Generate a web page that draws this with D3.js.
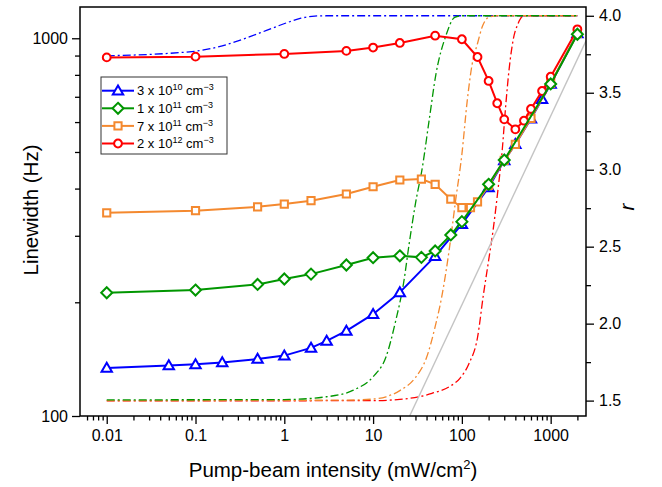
<!DOCTYPE html>
<html>
<head>
<meta charset="utf-8">
<script src="https://cdn.jsdelivr.net/npm/d3@7"></script>
<style>
body { margin: 0; background: #fff; }
text { font-family: "Liberation Sans", Arial, sans-serif; fill: #000; }
</style>
</head>
<body>
<svg width="662" height="487"></svg>
<script>
// measured linewidth (Hz) vs pump intensity (mW/cm2), one array per density
var blueX = [0.01, 0.05, 0.1, 0.2, 0.5, 1, 2, 3, 5, 10, 20, 50, 100, 200, 300, 400, 600, 800, 1000, 2000];
var blueY = [134, 136, 137, 138.5, 141.5, 144.5, 151.5, 158, 168, 186, 212.5, 265, 322, 403, 475, 524, 612, 690, 757, 1030];

var greenX = [0.01, 0.1, 0.5, 1, 2, 5, 10, 20, 35, 50, 75, 100, 200, 300, 1000, 2000];
var greenY = [212, 215.5, 223, 230.5, 237.5, 251, 262.5, 265.5, 263, 273.5, 301.5, 327, 410.6, 476, 757, 1025];

var orangeX = [0.01, 0.1, 0.5, 1, 2, 5, 10, 20, 35, 50, 75, 100, 125, 150, 200, 300, 400, 600, 1000, 2000];
var orangeY = [345, 349.5, 358, 364, 371.5, 387, 404.5, 421.5, 424, 410.5, 375, 356, 356, 369, 408, 475, 524, 614, 760, 1030];

var redX = [0.01, 0.1, 1, 5, 10, 20, 50, 100, 150, 200, 250, 300, 400, 500, 600, 800, 1000, 2000];
var redY = [890, 894, 909, 926, 945, 972, 1016, 994, 892, 771, 673, 610, 574, 605, 650, 725, 791, 1056];

// r curves (right axis)
var rBlueX = [0.01, 0.1, 0.2, 0.35, 0.63, 1.07, 1.54, 2.2, 3, 2000];
var rBlueY = [3.74, 3.77, 3.805, 3.85, 3.905, 3.955, 3.984, 3.998, 4.0, 4.0];

var rGreenX = [0.01, 1, 3, 6, 10, 14, 18, 22, 25.5, 30, 36, 43, 51, 66, 83, 100, 2000];
var rGreenY = [1.505, 1.507, 1.525, 1.568, 1.655, 1.785, 2.02, 2.26, 2.52, 2.78, 3.02, 3.33, 3.62, 3.87, 3.99, 4.0, 4.0];

var rOrangeX = [0.01, 5, 10, 14, 20, 30, 40, 50, 60, 72, 85, 100, 115, 130, 150, 170, 200, 250, 2000];
var rOrangeY = [1.5, 1.503, 1.51, 1.525, 1.565, 1.65, 1.78, 1.98, 2.19, 2.48, 2.8, 3.1, 3.45, 3.68, 3.82, 3.93, 3.99, 4.0, 4.0];

var rRedX = [0.01, 10, 20, 33, 46, 72, 95, 120, 150, 175, 200, 225, 255, 285, 310, 340, 380, 430, 500, 2000];
var rRedY = [1.498, 1.5, 1.508, 1.525, 1.547, 1.59, 1.645, 1.74, 1.91, 2.19, 2.41, 2.61, 2.87, 3.13, 3.40, 3.65, 3.85, 3.95, 4.0, 4.0];

// grey reference line
var greyX = [25.8, 2500];
var greyY = [100, 984];

var xTicks = [0.01, 0.1, 1, 10, 100, 1000];
var xTickLabels = ["0.01", "0.1", "1", "10", "100", "1000"];
var yTicks = [100, 1000];
var rTicks = [1.5, 2.0, 2.5, 3.0, 3.5, 4.0];

var legendLabels = [["3 x 10", "10"], ["1 x 10", "11"], ["7 x 10", "11"], ["2 x 10", "12"]];

var cBlue = "#0000ff", cGreen = "#009600", cOrange = "#f4892f", cRed = "#ff0000";

var L = 80, R = 586, T = 7, B = 416;

var x = d3.scaleLog().domain([0.005, 2500]).range([L, R]);
var y = d3.scaleLog().domain([100, 1210]).range([B, T]);
var yr = d3.scaleLinear().domain([1.4, 4.057]).range([B, T]);

var svg = d3.select("svg");

svg.append("defs").append("clipPath").attr("id", "clip")
    .append("rect").attr("x", L).attr("y", T).attr("width", R - L).attr("height", B - T);

var g = svg.append("g").attr("clip-path", "url(#clip)");

function zip(a, b) { return a.map(function(d, i) { return [d, b[i]]; }); }

// dash-dot r curves
var rLine = d3.line().x(function(d) { return x(d[0]); }).y(function(d) { return yr(d[1]); })
    .curve(d3.curveMonotoneX);
[[rBlueX, rBlueY, cBlue], [rRedX, rRedY, cRed], [rOrangeX, rOrangeY, cOrange], [rGreenX, rGreenY, cGreen]]
.forEach(function(s) {
    g.append("path").attr("d", rLine(zip(s[0], s[1])))
        .attr("fill", "none").attr("stroke", s[2]).attr("stroke-width", 1.3)
        .attr("stroke-dasharray", "8,3,2,3");
});

var lin = d3.line().x(function(d) { return x(d[0]); }).y(function(d) { return y(d[1]); });

g.append("path").attr("d", lin(zip(greyX, greyY)))
    .attr("fill", "none").attr("stroke", "#c4c4c4").attr("stroke-width", 1.4);

// marker shapes
var shapes = {
    tri: "M0,-5.2L5.2,3.8L-5.2,3.8Z",
    dia: "M0,-5.5L5.5,0L0,5.5L-5.5,0Z",
    sq: "M-3.6,-3.6H3.6V3.6H-3.6Z",
    circ: "M3.9,0A3.9,3.9 0 1,1 -3.9,0A3.9,3.9 0 1,1 3.9,0Z"
};

var series = [
    {xs: blueX, ys: blueY, c: cBlue, m: "tri"},
    {xs: orangeX, ys: orangeY, c: cOrange, m: "sq"},
    {xs: redX, ys: redY, c: cRed, m: "circ"},
    {xs: greenX, ys: greenY, c: cGreen, m: "dia"}
];

series.forEach(function(s) {
    var pts = zip(s.xs, s.ys);
    g.append("path").attr("d", lin(pts))
        .attr("fill", "none").attr("stroke", s.c).attr("stroke-width", 2);
    g.selectAll(null).data(pts).enter().append("path")
        .attr("d", shapes[s.m])
        .attr("transform", function(d) { return "translate(" + x(d[0]) + "," + y(d[1]) + ")"; })
        .attr("fill", "#fff").attr("stroke", s.c).attr("stroke-width", 2);
});

// axes
function minorLog(lo, hi) {
    var out = [];
    for (var e = -3; e <= 3; e++) {
        for (var k = 2; k <= 9; k++) {
            var v = k * Math.pow(10, e);
            if (v > lo && v < hi) out.push(v);
        }
    }
    return out;
}

svg.append("g").attr("transform", "translate(0," + B + ")")
    .call(d3.axisBottom(x).tickValues(xTicks)
        .tickFormat(function(d, i) { return xTickLabels[i]; })
        .tickSize(8).tickSizeOuter(0).tickPadding(6));
svg.append("g").attr("transform", "translate(0," + B + ")")
    .call(d3.axisBottom(x).tickValues(minorLog(0.0055, 2500)).tickFormat("").tickSize(4.5));

svg.append("g").attr("transform", "translate(" + L + ",0)")
    .call(d3.axisLeft(y).tickValues(yTicks).tickFormat(d3.format("d"))
        .tickSize(8).tickSizeOuter(0).tickPadding(4));
svg.append("g").attr("transform", "translate(" + L + ",0)")
    .call(d3.axisLeft(y).tickValues(minorLog(100, 1000)).tickFormat("").tickSize(5));

svg.append("g").attr("transform", "translate(" + R + ",0)")
    .call(d3.axisRight(yr).tickValues(rTicks).tickFormat(d3.format(".1f"))
        .tickSize(8).tickSizeOuter(0).tickPadding(5));
svg.append("g").attr("transform", "translate(" + R + ",0)")
    .call(d3.axisRight(yr).tickValues([1.75, 2.25, 2.75, 3.25, 3.75]).tickFormat("").tickSize(5));

svg.selectAll(".tick line").attr("stroke", "#000").attr("stroke-width", 1.3);
svg.selectAll(".domain").remove();
svg.selectAll(".tick text").style("font-size", "16px").attr("fill", "#000");

// frame
svg.append("rect").attr("x", L).attr("y", T).attr("width", R - L).attr("height", B - T)
    .attr("fill", "none").attr("stroke", "#000").attr("stroke-width", 1.5);

// titles
svg.append("text").attr("transform", "translate(38,210) rotate(-90)")
    .attr("text-anchor", "middle").style("font-size", "20.5px").text("Linewidth (Hz)");

var xt = svg.append("text").attr("x", 333).attr("y", 477)
    .attr("text-anchor", "middle").style("font-size", "20.5px");
xt.append("tspan").text("Pump-beam intensity (mW/cm");
xt.append("tspan").attr("dy", -8).style("font-size", "13px").text("2");
xt.append("tspan").attr("dy", 8).text(")");

svg.append("text").attr("transform", "translate(634,207) rotate(-90)")
    .attr("text-anchor", "middle").style("font-size", "20.5px").style("font-style", "italic").text("r");

// legend
var lg = svg.append("g");
lg.append("rect").attr("x", 101).attr("y", 77).attr("width", 126).attr("height", 77)
    .attr("fill", "#fff").attr("stroke", "#333").attr("stroke-width", 1);
var legSeries = [series[0], series[3], series[1], series[2]];
legSeries.forEach(function(s, i) {
    var cy = 90.7 + i * 17.6;
    lg.append("line").attr("x1", 102).attr("x2", 134).attr("y1", cy).attr("y2", cy)
        .attr("stroke", s.c).attr("stroke-width", 2);
    lg.append("path").attr("d", shapes[s.m]).attr("transform", "translate(118," + cy + ")")
        .attr("fill", "#fff").attr("stroke", s.c).attr("stroke-width", 2);
    var t = lg.append("text").attr("x", 137).attr("y", cy + 4.6).style("font-size", "13px");
    t.append("tspan").text(legendLabels[i][0]);
    t.append("tspan").attr("dy", -5).style("font-size", "9px").text(legendLabels[i][1]);
    t.append("tspan").attr("dy", 5).text(" cm");
    t.append("tspan").attr("dy", -5).style("font-size", "9px").text("\u22123");
});
</script>
</body>
</html>
